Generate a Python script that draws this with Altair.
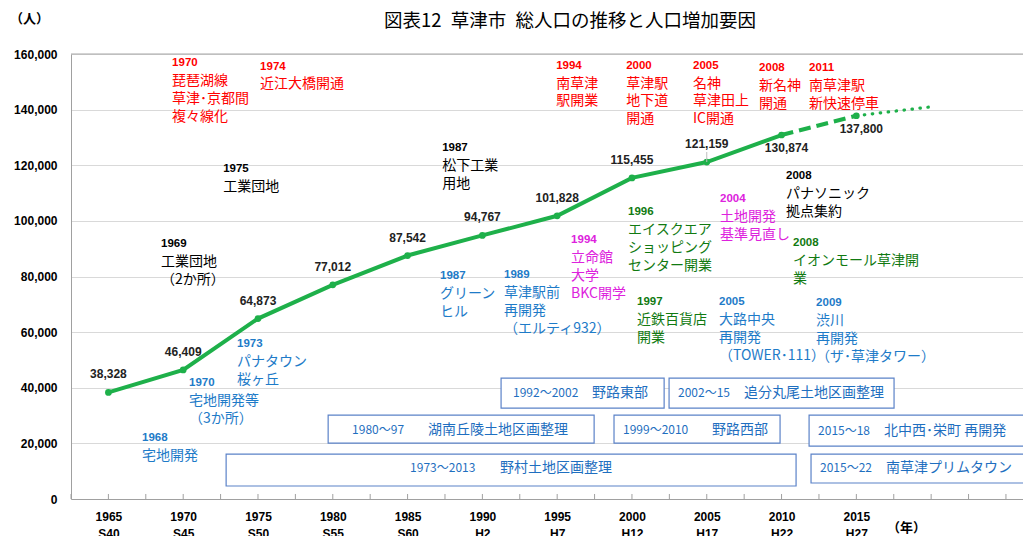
import altair as alt
import pandas as pd

# ---- data -------------------------------------------------------------
years = [1965, 1970, 1975, 1980, 1985, 1990, 1995, 2000, 2005, 2010, 2015]
eras = ["S40", "S45", "S50", "S55", "S60", "H2", "H7", "H12", "H17", "H22", "H27"]
population = [38328, 46409, 64873, 77012, 87542, 94767, 101828, 115455, 121159, 130874, 137800]
actual_years = years[:10]
actual_pop = population[:10]
est_years = [2010, 2015]
est_pop = [130874, 137800]
proj_years = [2015, 2020]
proj_pop = [137800, 141000]
tick_years = [1962.5 + 2.5 * i for i in range(26)]

TITLE = "図表12\u2002草津市\u2002総人口の推移と人口増加要因"
UNIT_Y = "（人）"
UNIT_X = "（年）"

RED, BLACK, BLUE, MAGENTA, GREEN = "#FF0000", "#000000", "#1E7BC8", "#DD22DD", "#117A11"

# annotation groups: (anchor year, anchor value, colour, lines)
notes = [
    (1969.26, 156900, RED, ["1970", "琵琶湖線", "草津･京都間", "複々線化"]),
    (1975.14, 155500, RED, ["1974", "近江大橋開通"]),
    (1994.93, 155850, RED, ["1994", "南草津", "駅開業"]),
    (1999.61, 155850, RED, ["2000", "草津駅", "地下道", "開通"]),
    (2004.08, 155850, RED, ["2005", "名神", "草津田上", "IC開通"]),
    (2008.50, 155130, RED, ["2008", "新名神", "開通"]),
    (2011.84, 155130, RED, ["2011", "南草津駅", "新快速停車"]),
    (1972.67, 118500, BLACK, ["1975", "工業団地"]),
    (1987.31, 126040, BLACK, ["1987", "松下工業", "用地"]),
    (1968.52, 91570, BLACK, ["1969", "工業団地", "（2か所）"]),
    (2010.30, 115990, BLACK, ["2008", "パナソニック", "拠点集約"]),
    (1973.60, 55660, BLUE, ["1973", "パナタウン", "桜ヶ丘"]),
    (1970.39, 41660, BLUE, ["1970", "宅地開発等", "（3か所）"]),
    (1967.25, 21900, BLUE, ["1968", "宅地開発"]),
    (1987.17, 80080, BLUE, ["1987", "グリーン", "ヒル"]),
    (1991.45, 80440, BLUE, ["1989", "草津駅前", "再開発", "（エルティ932）"]),
    (2005.82, 70740, BLUE, ["2005", "大路中央", "再開発", "（TOWER･111）"]),
    (2012.31, 70380, BLUE, ["2009", "渋川", "再開発", "（ザ･草津タワー）"]),
    (1995.93, 93010, MAGENTA, ["1994", "立命館", "大学", "BKC開学"]),
    (2005.89, 107730, MAGENTA, ["2004", "土地開発", "基準見直し"]),
    (1999.74, 103060, GREEN, ["1996", "エイスクエア", "ショッピング", "センター開業"]),
    (2000.34, 70740, GREEN, ["1997", "近鉄百貨店", "開業"]),
    (2010.77, 91930, GREEN, ["2008", "イオンモール草津開", "業"]),
]
LINE_STEP = 6464

# boxes: (x1, x2, y1, y2, period, period x, name, name x, text y)
boxes = [
    (1991.25, 2002.15, 32680, 43450, "1992～2002", 1992.05, "野路東部", 1997.33, 38060),
    (2002.48, 2017.52, 32680, 43450, "2002～15", 2003.08, "追分丸尾土地区画整理", 2007.49, 38060),
    (1979.69, 1997.47, 20110, 30160, "1980～97", 1981.29, "湖南丘陵土地区画整理", 1986.37, 24780),
    (1998.80, 2009.90, 20110, 30160, "1999～2010", 1999.40, "野路西部", 2005.35, 24780),
    (2011.84, 2030.00, 19030, 30160, "2015～18", 2012.44, "北中西･栄町 再開発", 2016.85, 24420),
    (1972.87, 2010.97, 4670, 16160, "1973～2013", 1985.17, "野村土地区画整理", 1991.18, 11130),
    (2011.97, 2030.00, 5750, 16160, "2015～22", 2012.57, "南草津プリムタウン", 2016.98, 11130),
]

# ---- tables -----------------------------------------------------------
rows = []
for x, y, c, lines in notes:
    for i, t in enumerate(lines):
        rows.append({"x": x, "y": y - i * LINE_STEP, "text": t, "color": c,
                     "kind": "year" if i == 0 else "jp"})
notes_df = pd.DataFrame(rows)

box_df = pd.DataFrame([{"x1": b[0], "x2": b[1], "y1": b[2], "y2": b[3],
                        "period": b[4], "px": b[5], "name": b[6], "nx": b[7], "ty": b[8]}
                       for b in boxes])

actual_df = pd.DataFrame({"year": actual_years, "pop": actual_pop})
est_df = pd.DataFrame({"year": est_years, "pop": est_pop})
proj_df = pd.DataFrame({"year": proj_years, "pop": proj_pop})
pts_df = pd.DataFrame({"year": years, "pop": population,
                       "label": [f"{v:,}" for v in population]})
ticks_df = pd.DataFrame({"year": tick_years})

X_DOM = [1962.5, 2026.14]
xs = alt.Scale(domain=X_DOM, nice=False, zero=False)
ys = alt.Scale(domain=[0, 160000], nice=False)

JP = "Noto Sans CJK JP"
NUM = "Liberation Sans"
LINE_GREEN = "#1EB04A"

era_arr = "[" + ",".join(f"'{e}'" for e in eras) + "]"
x_axis = alt.Axis(values=years, labelExpr=f"[format(datum.value,'d'), {era_arr}[(datum.value-1965)/5]]",
                  ticks=False, grid=False, domainColor="#A0A0A0", labelFont=NUM,
                  labelFontSize=12, labelFontWeight="bold", labelColor="#000",
                  labelPadding=12, labelLineHeight=17, title=None, labelFlush=False,
                  labelOverlap=False)
y_axis = alt.Axis(values=list(range(0, 160001, 20000)), format=",d", ticks=False,
                  grid=True, gridColor="#D9D9D9", domainColor="#A0A0A0",
                  labelFont=NUM, labelFontSize=12, labelFontWeight="bold",
                  labelColor="#000", labelPadding=14, title=None)

base_axes = alt.Chart(pts_df).mark_point(opacity=0).encode(
    x=alt.X("year:Q", scale=xs, axis=x_axis),
    y=alt.Y("pop:Q", scale=ys, axis=y_axis),
)

top_border = alt.Chart(pd.DataFrame({"v": [160000]})).mark_rule(color="#A6A6A6", strokeWidth=1).encode(
    y=alt.Y("v:Q", scale=ys), x=alt.value(0), x2=alt.value(952))

ticks = alt.Chart(ticks_df).transform_calculate(y0="0", y1="1800").mark_rule(
    color="#A0A0A0", strokeWidth=1).encode(
    x=alt.X("year:Q", scale=xs), y=alt.Y("y0:Q", scale=ys), y2="y1:Q")

rects = alt.Chart(box_df).mark_rect(fill="white", stroke="#5B82C8", strokeWidth=1.2, clip=True).encode(
    x=alt.X("x1:Q", scale=xs), x2="x2:Q", y=alt.Y("y1:Q", scale=ys), y2="y2:Q")
box_period = alt.Chart(box_df).mark_text(align="left", baseline="middle", font=JP,
                                         fontSize=12, color="#1F6FC0", clip=True).encode(
    x=alt.X("px:Q", scale=xs), y=alt.Y("ty:Q", scale=ys), text="period:N")
box_name = alt.Chart(box_df).mark_text(align="left", baseline="middle", font=JP,
                                       fontSize=14, color="#1F6FC0", clip=True).encode(
    x=alt.X("nx:Q", scale=xs), y=alt.Y("ty:Q", scale=ys), text="name:N")

solid = alt.Chart(actual_df).mark_line(color=LINE_GREEN, strokeWidth=4).encode(
    x=alt.X("year:Q", scale=xs), y=alt.Y("pop:Q", scale=ys))
dashed = alt.Chart(est_df).mark_line(color=LINE_GREEN, strokeWidth=4, strokeDash=[12, 6]).encode(
    x=alt.X("year:Q", scale=xs), y=alt.Y("pop:Q", scale=ys))
dotted = alt.Chart(proj_df).mark_line(color=LINE_GREEN, strokeWidth=3.2, strokeDash=[0.5, 7.5],
                                      strokeCap="round").encode(
    x=alt.X("year:Q", scale=xs), y=alt.Y("pop:Q", scale=ys))
points = alt.Chart(pts_df).mark_circle(color=LINE_GREEN, size=45, opacity=1).encode(
    x=alt.X("year:Q", scale=xs), y=alt.Y("pop:Q", scale=ys))

leader = alt.Chart(pts_df).transform_filter("datum.year == 2005").transform_calculate(
    top="datum.pop + 3600").mark_rule(color="#BFBFBF", strokeWidth=1).encode(
    x=alt.X("year:Q", scale=xs), y=alt.Y("pop:Q", scale=ys), y2="top:Q")

labels_above = alt.Chart(pts_df).transform_filter("datum.year <= 2005").mark_text(
    font=NUM, fontSize=12, fontWeight="bold", color="#222", baseline="middle", dy=-18).encode(
    x=alt.X("year:Q", scale=xs), y=alt.Y("pop:Q", scale=ys), text="label:N")
labels_below = alt.Chart(pts_df).transform_filter("datum.year >= 2010").mark_text(
    font=NUM, fontSize=12, fontWeight="bold", color="#222", baseline="middle", dy=13, dx=5).encode(
    x=alt.X("year:Q", scale=xs), y=alt.Y("pop:Q", scale=ys), text="label:N")

note_years = alt.Chart(notes_df).transform_filter("datum.kind == 'year'").mark_text(
    align="left", baseline="middle", font=NUM, fontSize=11.5, fontWeight="bold").encode(
    x=alt.X("x:Q", scale=xs), y=alt.Y("y:Q", scale=ys), text="text:N",
    color=alt.Color("color:N", scale=None))
note_jp = alt.Chart(notes_df).transform_filter("datum.kind == 'jp'").mark_text(
    align="left", baseline="middle", font=JP, fontSize=14).encode(
    x=alt.X("x:Q", scale=xs), y=alt.Y("y:Q", scale=ys), text="text:N",
    color=alt.Color("color:N", scale=None))

outer_df = pd.DataFrame([
    {"x": 1995.86, "y": 172000, "text": TITLE, "kind": "title"},
    {"x": 1958.43, "y": 172730, "text": UNIT_Y, "kind": "unit"},
    {"x": 2017.05, "y": -10400, "text": UNIT_X, "kind": "unit"},
])
title_txt = alt.Chart(outer_df).transform_filter("datum.kind == 'title'").mark_text(
    align="center", baseline="middle", font=JP, fontSize=18.5, color="#000").encode(
    x=alt.X("x:Q", scale=xs), y=alt.Y("y:Q", scale=ys), text="text:N")
unit_txt = alt.Chart(outer_df).transform_filter("datum.kind == 'unit'").mark_text(
    align="left", baseline="middle", font=JP, fontSize=13, fontWeight="bold", color="#000").encode(
    x=alt.X("x:Q", scale=xs), y=alt.Y("y:Q", scale=ys), text="text:N")

chart = alt.layer(
    base_axes, top_border, ticks, rects, box_period, box_name,
    solid, dashed, dotted, points, leader, labels_above, labels_below,
    note_years, note_jp, title_txt, unit_txt,
).properties(
    width=952, height=445,
    autosize=alt.AutoSizeParams(type="none"),
    padding={"left": 63, "top": 46, "right": 0, "bottom": 37},
).configure_view(stroke=None)

chart.save("out.html", embed_options={"renderer": "svg", "actions": False})
